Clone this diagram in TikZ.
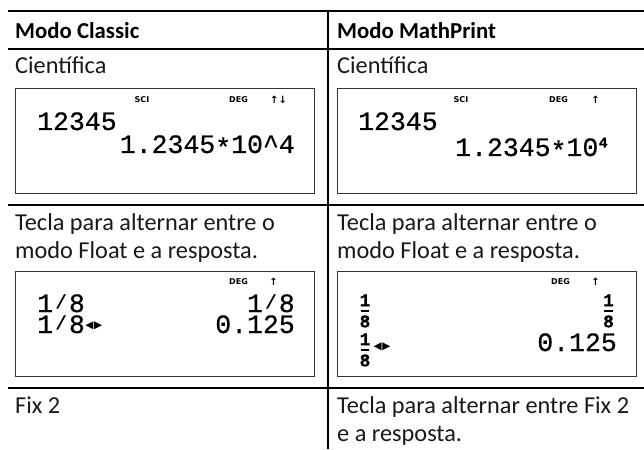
\documentclass[tikz,border=0pt]{standalone}
\usepackage{fontspec}
\usepackage{graphicx}
\setmainfont{Carlito}
\newfontfamily\lcdfont[FakeBold=0.6]{Liberation Mono}
\newfontfamily\indfont{DejaVu Sans}
\newcommand\lsl{\makebox[0.6em]{\raisebox{0.14em}{\scalebox{0.72}{/}}}}
\newcommand\lst{\raisebox{-0.13em}{*}}
\newcommand\lcdfr[2]{\shortstack{#1\\[0.5pt]\rule{8.5pt}{2pt}\\[0.5pt]#2}}
\newcommand\togg{◀\hspace{0.6pt}▶}
\newcommand\togl{\hspace{0.5pt}\raisebox{4.5pt}{\fontsize{10.5}{11}\indfont\togg}}
\begin{document}
\begin{tikzpicture}[x=1pt,y=-1pt,
  rule/.style={line width=1.3pt, black},
  screen/.style={draw=black!80, line width=0.9pt},
  celltext/.style={anchor=base west, inner sep=0, font=\fontsize{24.3}{29}\selectfont, text=black!90},
  headtext/.style={anchor=base west, inner sep=0, font=\fontsize{22.8}{28}\selectfont\bfseries, text=black},
  lcd/.style={inner sep=0, font=\fontsize{26.5}{28}\lcdfont},
  lcdsup/.style={inner sep=0, anchor=base west, font=\fontsize{15}{15}\lcdfont\bfseries},
  lcdfrac/.style={inner sep=0, anchor=center, font=\fontsize{18}{18}\lcdfont\bfseries},
  ind/.style={inner sep=0, anchor=center, font=\fontsize{8}{9}\indfont\bfseries},
  arrw/.style={inner sep=0, anchor=center, font=\fontsize{10}{10}\indfont\bfseries},
  tog/.style={inner sep=0, anchor=center, font=\fontsize{10.5}{11}\indfont},
  ]
\useasboundingbox (0,0) rectangle (644,449);
\fill[white] (0,0) rectangle (644,449);

% table rules
\draw[rule] (8,11) -- (644,11);
\draw[rule] (8,49) -- (644,49);
\draw[rule] (8,205) -- (644,205);
\draw[rule] (8,388) -- (644,388);
\draw[rule] (328,11) -- (328,449);

% header
\node[headtext] (h1) at (15,39) {Modo Classic};
\node[headtext] (h2) at (337,39) {Modo MathPrint};

% row 1
\node[celltext] (c1) at (15,74) {Científica};
\node[celltext] (c2) at (337,74) {Científica};
\draw[screen] (15,88) rectangle (314,193);
\draw[screen] (337,88) rectangle (636,193);

\node[ind] (sci1) at (142,99.5) {SCI};
\node[ind] (deg1) at (238.5,99.5) {DEG};
\node[arrw] (arr1) at (278.5,99.5) {↑↓};
\node[lcd, anchor=base west] (n1) at (37,130) {12345};
\node[lcd, anchor=base east] (e1) at (295,153) {1.2345\lst 10\^{}4};

\node[ind] (sci2) at (461,99.5) {SCI};
\node[ind] (deg2) at (558.5,99.5) {DEG};
\node[arrw] (arr2) at (595.5,99.5) {↑};
\node[lcd, anchor=base west] (n2) at (358,130) {12345};
\node[lcd, anchor=base west] (e2) at (455,156) {1.2345\lst 10};
\node[lcdsup] (p2) at (e2.base east) [yshift=8.5pt] {4};

% row 2
\node[celltext] (t1a) at (15,230) {Tecla para alternar entre o};
\node[celltext] (t1b) at (15,258) {modo Float e a resposta.};
\node[celltext] (t2a) at (337,230) {Tecla para alternar entre o};
\node[celltext] (t2b) at (337,258) {modo Float e a resposta.};
\draw[screen] (15,271) rectangle (314,376);
\draw[screen] (337,271) rectangle (636,376);

\node[ind] (deg3) at (238.5,281.5) {DEG};
\node[arrw] (arr3) at (273.5,281.5) {↑};
\node[lcd, anchor=base west] (f1) at (37,333) {\shortstack[l]{1\lsl 8\\1\lsl 8\togl}};
\node[lcd, anchor=base east] (f3) at (295,333) {\shortstack[r]{1\lsl 8\\0.125}};

\node[ind] (deg4) at (560.5,281.5) {DEG};
\node[arrw] (arr4) at (595.5,281.5) {↑};
\node[lcdfrac] (g1) at (365,311) {\lcdfr{1}{8}};
\node[lcdfrac] (g2) at (365,350) {\lcdfr{1}{8}};
\node[tog] (tg2) at (382,347) {\togg};
\node[lcdfrac] (g3) at (608.5,311) {\lcdfr{1}{8}};
\node[lcd, anchor=base east] (d2) at (617,351) {0.125};

% row 3
\node[celltext] (x1) at (15,413) {Fix 2};
\node[celltext] (x2a) at (337,413) {Tecla para alternar entre Fix 2};
\node[celltext] (x2b) at (337,441) {e a resposta.};
\end{tikzpicture}
\end{document}
